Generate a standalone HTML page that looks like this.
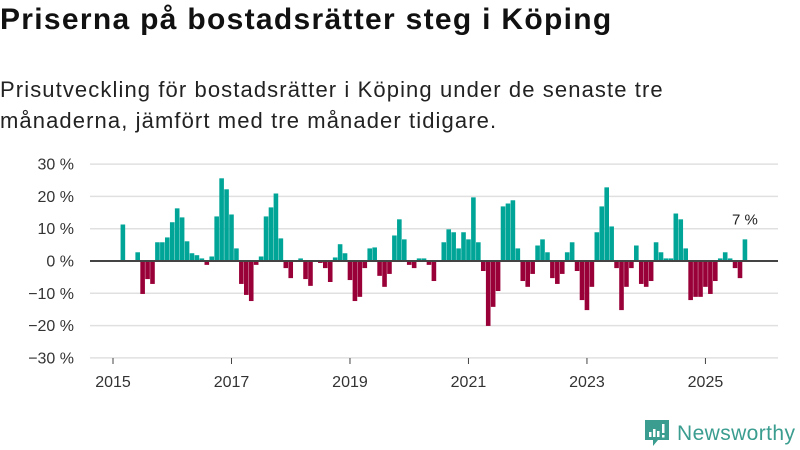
<!DOCTYPE html>
<html><head><meta charset="utf-8">
<style>
body{margin:0;background:#fff;width:800px;height:450px;overflow:hidden;font-family:"Liberation Sans","DejaVu Sans",sans-serif;}
#title{position:absolute;left:0;top:3px;font-size:30px;font-weight:bold;color:#111;white-space:nowrap;letter-spacing:1.3px}
#sub{position:absolute;left:0;top:74px;font-size:22px;line-height:31px;color:#222;width:720px;letter-spacing:1.1px}
svg{position:absolute;left:0;top:0}
</style></head><body>
<div id="title">Priserna på bostadsrätter steg i Köping</div>
<div id="sub">Prisutveckling för bostadsrätter i Köping under de senaste tre<br>månaderna, jämfört med tre månader tidigare.</div>
<svg id="chart" width="800" height="450"></svg>
<script>
// values start March 2015 (month index 2 from Jan 2015)
const startMonth = 2;
const values = [11.3,0,0,2.7,-10.2,-5.6,-7.1,5.8,5.8,7.3,12,16.3,13.5,6.1,2.4,1.8,0.8,-1.2,1.4,13.8,25.6,22.2,14.4,3.9,-7.1,-10.5,-12.4,-1.2,1.4,13.8,16.6,20.9,7,-2.2,-5.3,0,0.8,-5.6,-7.7,0,-0.6,-2.2,-6.5,1.1,5.2,2.4,-5.9,-12.4,-11.1,-2.2,3.9,4.2,-4.6,-8,-4,7.9,12.9,6.7,-1.2,-2.2,0.8,0.8,-1.2,-6.2,0,5.8,9.8,8.9,3.9,8.9,6.7,19.7,5.8,-3.1,-20.1,-14.2,-9.3,16.9,17.8,18.8,3.9,-6.2,-8,-4,4.8,6.7,2.7,-5.3,-7.1,-4,2.7,5.8,-3.1,-12.1,-15.2,-8,8.9,16.9,22.8,10.7,-2.2,-15.2,-8,-2.2,4.8,-7.1,-8,-6.2,5.8,2.7,0.8,0.8,14.7,12.9,3.9,-12.1,-11.1,-11.1,-8,-10.2,-6.2,0.8,2.7,0.8,-2.2,-5.3,6.7];
const yTicks = [30,20,10,0,-10,-20,-30];
const xYears = [2015,2017,2019,2021,2023,2025];
const lastLabel = "7 %";

const NS="http://www.w3.org/2000/svg";
const svg=document.getElementById('chart');
const y=v=>261-v*3.23;
const x=m=>113+4.937*m; // m = months since Jan 2015 (center)
function el(t,a){const e=document.createElementNS(NS,t);for(const k in a)e.setAttribute(k,a[k]);svg.appendChild(e);return e;}
yTicks.forEach(t=>{
  if(t!==0){const g=el('line',{x1:90,x2:778,y1:y(t),y2:y(t),stroke:'#e0e0e0','stroke-width':1.5});
  
  }
  const l=el('text',{x:74,y:y(t)+5.5,'text-anchor':'end','font-size':16,fill:'#333','font-family':'Liberation Sans, sans-serif'});
  l.textContent=(t<0?'−'+(-t):t)+' %';
  
  
});
xYears.forEach(yr=>{
  const m=(yr-2015)*12;
  const tk=el('line',{x1:x(m),x2:x(m),y1:358,y2:364,stroke:'#444','stroke-width':1});
  
  
  const l=el('text',{x:x(m),y:387,'text-anchor':'middle','font-size':16,fill:'#333','font-family':'Liberation Sans, sans-serif'});
  l.textContent=yr;
  
  
});
values.forEach((v,i)=>{
  const cx=x(startMonth+i);
  const top=Math.min(y(v),y(0)),h=Math.abs(y(v)-y(0));
  const r=el('rect',{x:cx-2.3,y:top,width:4.6,height:h,fill:v>=0?'#00A598':'#990038'});
  
  
});
const ax=el('line',{x1:90,x2:778,y1:y(0),y2:y(0),stroke:'#444','stroke-width':2});


const li=values.length-1;
const ll=el('text',{x:x(startMonth+li),y:y(values[li])-15,'text-anchor':'middle','font-size':15,fill:'#222','font-family':'Liberation Sans, sans-serif'});
ll.textContent=lastLabel;


</script>
<svg width="800" height="450" style="position:absolute;left:0;top:0">
<path d="M645 420 h24 v20 h-11 l-5 6 v-6 h-8 z" fill="#3a9d8f"/>
<rect x="649" y="432" width="2.5" height="5" fill="#fff"/><rect x="653" y="429" width="2.5" height="8" fill="#fff"/><rect x="657" y="431" width="2.5" height="6" fill="#fff"/><rect x="662" y="424" width="2.5" height="9" fill="#fff"/><rect x="662" y="435" width="2.5" height="2.5" fill="#fff"/>
<text x="677" y="440" font-size="21" fill="#3a9d8f" font-family="Liberation Sans, sans-serif" letter-spacing="0.4">Newsworthy</text>
</svg>
</body></html>
